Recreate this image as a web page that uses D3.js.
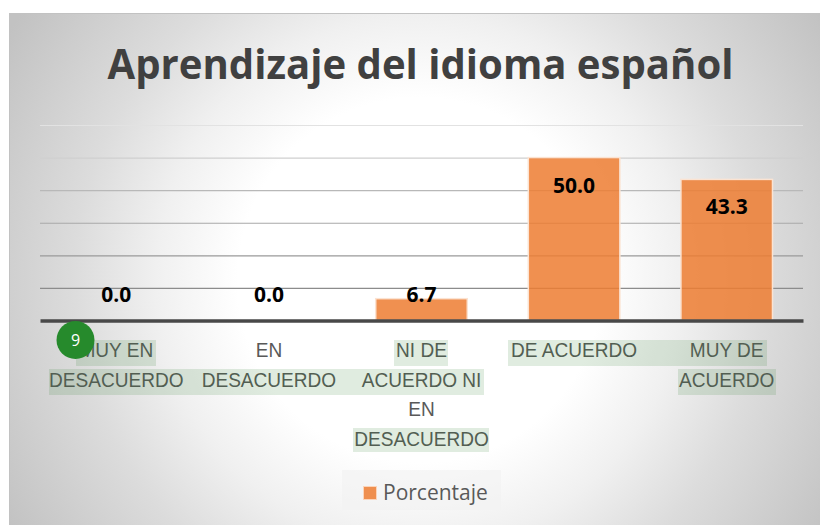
<!DOCTYPE html>
<html>
<head>
<meta charset="utf-8">
<script src="https://cdn.jsdelivr.net/npm/d3@7"></script>
<style>
  html, body { margin: 0; padding: 0; background: #fff; }
  svg { display: block; font-family: "Open Sans", sans-serif; }
</style>
</head>
<body>
<div id="chart"></div>
<script>
// values
var categories = ["MUY EN DESACUERDO", "EN DESACUERDO", "NI DE ACUERDO NI EN DESACUERDO", "DE ACUERDO", "MUY DE ACUERDO"];
var values = [0.0, 0.0, 6.7, 50.0, 43.3];
var tickLabels = [
  ["MUY EN", "DESACUERDO"],
  ["EN", "DESACUERDO"],
  ["NI DE", "ACUERDO NI", "EN", "DESACUERDO"],
  ["DE ACUERDO"],
  ["MUY DE", "ACUERDO"]
];
var gridTicks = [10, 20, 30, 40, 50, 60];
var gridColors = ["#8c8c8c", "#9a9a9a", "#a8a8a8", "#b8b8b8", "#cfcfcf", "#e2e2e2"];
var title = "Aprendizaje del idioma español";
var seriesName = "Porcentaje";

var w = 820, h = 525;
var plot = {left: 40, right: 803, top: 125, bottom: 320.5};

var svg = d3.select("#chart").append("svg")
            .attr("width", w)
            .attr("height", h);

// card background
var grad = svg.append("defs").append("radialGradient")
              .attr("id", "bg")
              .attr("gradientUnits", "userSpaceOnUse")
              .attr("cx", 420).attr("cy", 280).attr("r", 480);
grad.append("stop").attr("offset", "38%").attr("stop-color", "#ffffff");
grad.append("stop").attr("offset", "55%").attr("stop-color", "#f0f0f0");
grad.append("stop").attr("offset", "72%").attr("stop-color", "#dcdcdc");
grad.append("stop").attr("offset", "100%").attr("stop-color", "#c2c2c2");

svg.append("rect")
   .attr("x", 9).attr("y", 13)
   .attr("width", w - 9).attr("height", h - 13)
   .attr("fill", "url(#bg)");
svg.append("path")
   .attr("d", "M9.5," + h + "V13.5H" + w)
   .attr("fill", "none")
   .attr("stroke", "#c2c2c2");

//title is squeezed the same way as the category labels
svg.append("text")
   .attr("transform", "translate(420.5,79) scale(0.955,1)")
   .attr("text-anchor", "middle")
   .attr("font-size", 42)
   .attr("font-weight", 700)
   .attr("fill", "#404040")
   .text(title);

var x = d3.scaleBand()
          .domain(categories)
          .range([plot.left, plot.right])
          .paddingInner(0.4)
          .paddingOuter(0.2);

var y = d3.scaleLinear()
          .domain([0, 60])
          .range([plot.bottom, plot.top]);

//gridlines, each one a little lighter going up
var grid = svg.append("g")
              .attr("transform", "translate(" + plot.left + ",0)")
              .call(d3.axisLeft(y)
                      .tickValues(gridTicks)
                      .tickSize(-(plot.right - plot.left))
                      .tickFormat(""));
grid.select(".domain").remove();
grid.selectAll(".tick line")
    .attr("stroke", function(d, i) { return gridColors[i]; })
    .attr("stroke-width", 1.2);

svg.selectAll(".bar")
   .data(values)
   .enter()
   .append("rect")
   .attr("class", "bar")
   .filter(function(d) { return d > 0; })
   .attr("x", function(d, i) { return x(categories[values.indexOf(d)]); })
   .attr("y", function(d) { return y(d); })
   .attr("width", x.bandwidth())
   .attr("height", function(d) { return y(0) - y(d); })
   .attr("fill", "#ed7d31")
   .attr("fill-opacity", 0.85)
   .attr("stroke", "#fbe3d2")
   .attr("stroke-width", 1.5);

//baseline and category labels
var axis = svg.append("g")
              .attr("transform", "translate(0," + plot.bottom + ")")
              .call(d3.axisBottom(x).tickSize(0).tickFormat(""));
axis.select(".domain")
    .attr("stroke", "#484848")
    .attr("stroke-width", 3.6);

//the original face is a bit narrower than Open Sans, so squeeze it sideways
axis.selectAll(".tick text").remove();
axis.selectAll(".tick")
    .append("text")
    .attr("text-anchor", "middle")
    .attr("transform", "scale(0.93,1)")
    .attr("font-size", 20.5)
    .attr("fill", "#595959")
    .selectAll("tspan")
    .data(function(d, i) { return tickLabels[i]; })
    .enter()
    .append("tspan")
    .attr("x", 0)
    .attr("y", function(d, i) { return 37 + i * 29.4; })
    .text(function(d) { return d; });

//green text highlighting that sits on top of the picture
var highlights = [
  [76, 156, 340, 366],
  [394, 448, 340, 366],
  [508, 767, 340, 366],
  [49, 484, 369, 395],
  [678, 776, 369, 395],
  [353, 489, 428, 452]
];
svg.selectAll(".mark-hl")
   .data(highlights)
   .enter()
   .append("rect")
   .attr("class", "mark-hl")
   .attr("x", function(d) { return d[0]; })
   .attr("width", function(d) { return d[1] - d[0]; })
   .attr("y", function(d) { return d[2]; })
   .attr("height", function(d) { return d[3] - d[2]; })
   .attr("fill", "#2e7d32")
   .attr("fill-opacity", 0.15);

//data labels, big bars get them inside, small ones above the baseline
svg.selectAll(".value")
   .data(values)
   .enter()
   .append("text")
   .attr("class", "value")
   .attr("x", function(d, i) { return x(categories[i]) + x.bandwidth() / 2; })
   .attr("y", function(d) { return d > 10 ? y(d) + 35 : y(0) - 18.5; })
   .attr("text-anchor", "middle")
   .attr("font-size", 21)
   .attr("font-weight", 700)
   .attr("fill", "#000")
   .text(function(d) { return d3.format(".1f")(d); });

//legend
svg.append("rect")
   .attr("x", 342).attr("y", 470)
   .attr("width", 159).attr("height", 40)
   .attr("fill", "#f2f2f2")
   .attr("fill-opacity", 0.6);
svg.append("rect")
   .attr("x", 363.5).attr("y", 486.5)
   .attr("width", 13).attr("height", 13)
   .attr("fill", "#ed7d31")
   .attr("fill-opacity", 0.85)
   .attr("stroke", "#fbd5bb");
svg.append("text")
   .attr("x", 383).attr("y", 499.5)
   .attr("font-size", 21)
   .attr("fill", "#595959")
   .text(seriesName);

//numbered badge
svg.append("circle")
   .attr("cx", 75.5).attr("cy", 340)
   .attr("r", 19)
   .attr("fill", "#268a2c");
svg.append("text")
   .attr("x", 75.5).attr("y", 345.5)
   .attr("text-anchor", "middle")
   .attr("font-size", 16)
   .attr("fill", "#fff")
   .text("9");
</script>
</body>
</html>
